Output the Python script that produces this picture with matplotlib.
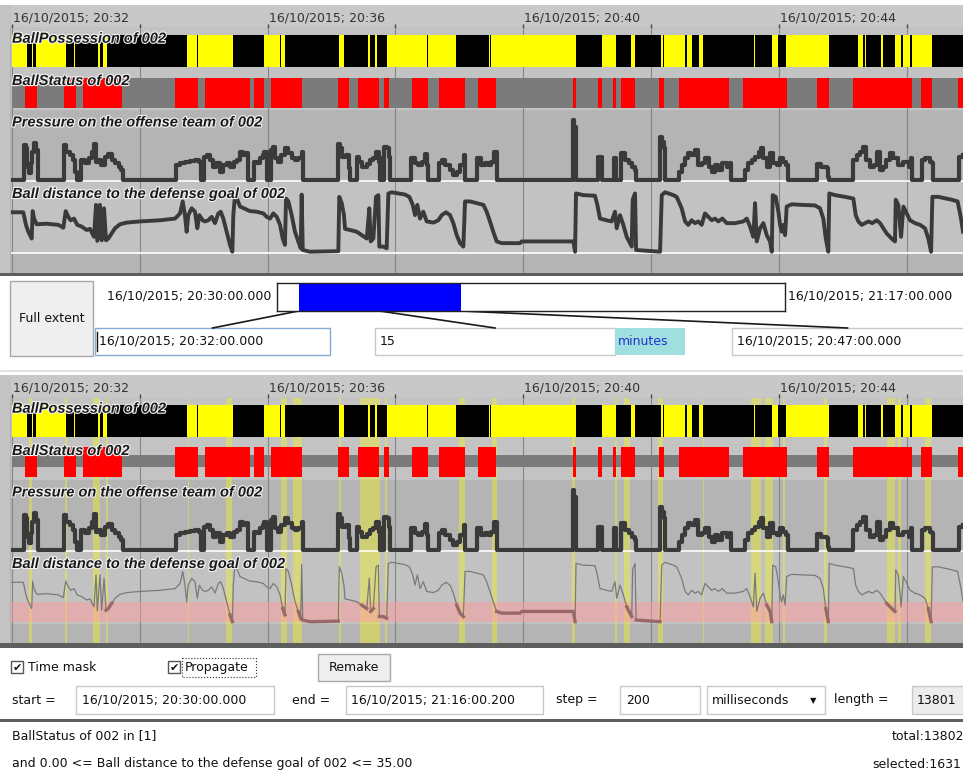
import matplotlib
matplotlib.use("Agg")
import matplotlib.pyplot as plt
import matplotlib.patheffects as pe
from matplotlib.patches import Rectangle
from matplotlib.transforms import blended_transform_factory
import numpy as np

# ---- data: times are seconds after 16/10/2015 20:32:00 ----
# BallPossession of 002: intervals shown in yellow (black elsewhere)
possession_yellow = [
    (0, 13.8), (19, 20), (22.5, 50.7), (58.2, 59.1), (81, 82.6), (85.8, 89),
    (164.6, 173.4), (175, 207.3), (236.9, 251.7), (252.6, 256.4), (307.3, 312),
    (334.6, 336.2), (340.9, 342.5), (351.8, 389.4), (390.6, 416.6), (447.9, 449),
    (450, 529.3), (553.7, 567.1), (581, 585.3), (609.4, 611), (612.5, 631.9),
    (633.5, 638.2), (645.1, 649.1), (696.7, 698), (713.9, 719.5), (726.8, 767.2),
    (794.1, 798.8), (801, 802), (816, 818.1), (829, 834.4), (836.3, 843.1),
    (844.8, 864.1),
]

# BallStatus of 002 == 1 (red)
status_red = [
    (12.2, 23.2), (48.8, 60.4), (66.4, 103.6), (153, 174.9), (181.2, 223.5),
    (227.5, 236.9), (243.2, 272), (306.4, 316.8), (324.6, 344.6), (349.3, 354),
    (375.3, 390.3), (401.2, 425.3), (437.8, 454.3), (526.5, 529.3), (550, 554),
    (564.6, 567.1), (571.9, 585), (607.8, 612.5), (626.3, 673.6), (686.7, 727.4),
    (755.6, 767.4), (789.4, 845.4), (853.5, 864.1), (888.6, 893),
]

# Pressure on the offense team of 002 (time, value), step series
pressure = [
    (0, 0), (11, 35), (13, 32), (14, 13), (16, 7), (18, 17), (19, 28), (21, 37), (23, 30), (24, 0),
    (49, 35), (51, 28), (54, 25), (57, 20), (59, 8), (61, 0),
    (65, 20), (69, 17), (72, 22), (75, 28), (77, 36), (79, 18), (81, 20), (84, 15), (87, 23),
    (90, 26), (94, 20), (97, 17), (100, 13), (102, 10), (104, 0),
    (154, 15), (158, 17), (162, 18), (167, 19), (172, 20), (176, 18), (177, 0),
    (180, 23), (183, 25), (186, 20), (189, 13), (192, 17), (195, 8), (198, 15), (202, 17),
    (205, 13), (208, 18), (211, 20), (214, 28), (217, 25), (220, 27), (222, 0),
    (227, 18), (230, 17), (233, 22), (236, 25), (237, 28), (239, 0),
    (243, 30), (245, 33), (247, 22), (250, 18), (253, 25), (256, 32), (259, 27), (263, 22),
    (266, 20), (269, 22), (272, 28), (273, 0),
    (306, 36), (308, 32), (310, 23), (314, 25), (316, 12), (317, 0),
    (324, 23), (326, 18), (329, 13), (333, 16), (336, 20), (339, 22), (342, 28), (345, 18),
    (346, 0), (347, 22), (348, 0),
    (349, 33), (352, 32), (354, 23), (355, 0),
    (375, 22), (378, 17), (381, 15), (385, 18), (388, 26), (390, 15), (391, 0),
    (401, 17), (404, 20), (407, 15), (411, 10), (414, 5), (418, 8), (421, 15), (424, 25), (425, 0),
    (437, 22), (440, 15), (444, 17), (447, 15), (450, 18), (453, 28), (455, 0),
    (527, 60), (528, 53), (530, 0),
    (550, 23), (554, 0), (565, 22), (567, 0),
    (572, 27), (576, 20), (579, 17), (582, 13), (585, 10), (586, 0),
    (608, 43), (610, 38), (612, 32), (613, 0),
    (626, 8), (629, 15), (632, 22), (635, 27), (638, 25), (641, 30), (644, 15), (648, 17),
    (651, 22), (654, 13), (657, 8), (660, 15), (663, 10), (667, 17), (671, 13), (674, 17), (675, 0),
    (688, 10), (691, 17), (695, 20), (698, 23), (701, 28), (703, 32), (705, 22), (709, 13),
    (712, 27), (715, 17), (718, 15), (721, 22), (724, 18), (727, 15), (729, 0),
    (756, 16), (760, 13), (765, 12), (766, 3), (767, 0),
    (790, 20), (793, 25), (796, 28), (799, 33), (802, 20), (806, 13), (809, 15), (812, 28),
    (815, 10), (818, 13), (821, 20), (824, 27), (827, 22), (832, 15), (837, 18), (842, 13),
    (844, 22), (845, 0),
    (854, 20), (857, 22), (862, 18), (864, 17), (865, 0),
    (889, 23), (893, 25),
]

# Ball distance to the defense goal of 002 (time, metres)
distance = [
    (0, 70), (10.6, 70), (13.1, 48), (15.3, 36), (18.5, 24), (19.4, 72), (20.7, 59), (23.2, 49),
    (32.6, 50), (43.5, 48), (48.2, 43), (50.4, 72), (52.9, 62), (55.1, 56), (58.2, 59), (61.3, 48),
    (65.4, 45), (70.1, 39), (73.2, 41), (77, 27), (78.9, 83), (80.1, 20), (82.6, 83), (84.2, 21),
    (86.4, 77), (88.3, 21), (90.4, 24), (93.6, 33), (96.7, 42), (101.4, 49), (107.7, 52),
    (120.2, 54), (139, 56), (153.1, 59), (157.8, 68), (160.3, 89), (162.4, 65), (164, 36),
    (165.5, 65), (168.7, 77), (171.8, 71), (174, 42), (175.9, 65), (179.1, 56), (181.2, 54),
    (184.3, 56), (187.5, 62), (190.6, 51), (193.7, 68), (196, 71), (198.4, 59), (201.6, 36),
    (204.7, 13), (206.9, 1), (207.8, 65), (209.4, 100), (211.6, 92), (214.1, 80), (218.8, 76),
    (223.5, 72), (229.8, 71), (236, 68), (239.2, 62), (242.3, 59), (245.4, 68), (248.6, 62),
    (251.7, 48), (254.2, 24), (256.3, 13), (257.3, 94), (259.5, 89), (262.6, 65), (265.7, 36),
    (268.8, 19), (271.1, 7), (272, 101), (273, 4), (279.8, 1), (306.4, 2), (307.3, 97),
    (309.6, 86), (311.7, 65), (312.7, 41), (317.4, 39), (323.7, 36), (328.4, 30), (333.1, 24),
    (335.5, 77), (336.8, 19), (339.3, 24), (341.8, 97), (344, 100), (344.9, 10), (348.7, 10),
    (351.8, 7), (353.4, 103), (356.5, 105), (362.7, 103), (369, 101), (373.1, 97), (376.3, 83),
    (378.4, 65), (380.6, 83), (383.1, 59), (386.2, 71), (389.4, 54), (395.6, 52), (400.3, 56),
    (403.5, 65), (407.5, 70), (411.3, 65), (414.4, 51), (417.6, 30), (420.7, 16), (423.8, 10),
    (425.4, 89), (430.1, 89), (436.4, 86), (442.6, 83), (445.7, 71), (448.8, 54), (451.9, 36),
    (455.1, 19), (459.8, 16), (477, 16), (478.6, 19), (527.1, 19), (528.7, 1), (529.6, 103),
    (536.5, 100), (547.4, 99), (549.6, 83), (552.1, 59), (558.4, 56), (563.1, 54), (566.2, 71),
    (567.8, 42), (570.9, 65), (574, 48), (577.2, 27), (581.9, 10), (582.8, 92), (585, 103),
    (586, 4), (608.5, 1), (610.1, 100), (613.2, 105), (621, 100), (624.1, 97), (628.8, 77),
    (632, 54), (635, 48), (638.2, 56), (641.4, 51), (644.4, 54), (647.6, 48), (650.7, 68),
    (653.8, 62), (657, 56), (660.1, 59), (663.2, 54), (667, 59), (671.1, 51), (678.9, 51),
    (686.7, 54), (689.9, 59), (693, 45), (696.1, 27), (697.7, 86), (699.3, 19), (702.4, 42),
    (705.5, 51), (708.7, 30), (711.8, 19), (713.4, 1), (714.3, 100), (717.1, 97), (719.6, 71),
    (721.2, 48), (722.7, 36), (724.3, 48), (725.9, 30), (727.4, 80), (732.1, 84), (741.5, 83),
    (754, 82), (758.7, 77), (761.8, 59), (764.1, 24), (766.5, 1), (767.4, 103), (772.8, 100),
    (782.2, 97), (790, 94), (792.2, 65), (794.7, 54), (797.9, 48), (801, 51), (804.1, 54),
    (807.8, 51), (812, 56), (815.1, 51), (818.2, 42), (821.3, 33), (826, 24), (829.1, 19),
    (829.8, 92), (832.2, 83), (834.8, 27), (837, 80), (840.1, 68), (843.2, 56), (847.9, 51),
    (852.6, 48), (857.3, 42), (860.4, 24), (863, 1), (864.2, 97), (869.8, 97), (882.3, 92),
    (887.9, 89), (891.1, 59), (893, 36),
]

# time mask result (BallStatus in [1] and 0 <= distance <= 35), highlighted in yellow
selected = [
    (16.2, 18.5), (49.8, 51.4), (76.3, 82.6), (88.3, 90.4), (165, 166), (201, 207),
    (252.6, 258.2), (264.1, 272.3), (307, 309), (326.8, 345.6), (350.3, 352.4), (420, 425.4),
    (450.4, 455.1), (525.5, 528.7), (566.2, 567.8), (574.7, 580.3), (606.9, 611.6),
    (648.6, 649.8), (693.6, 703), (707.1, 714.9), (724.3, 725.9), (762.5, 765.6),
    (821.3, 829.1), (832, 834.5), (857.3, 862.6),
]

row_names = ["BallPossession of 002", "BallStatus of 002",
             "Pressure on the offense team of 002", "Ball distance to the defense goal of 002"]
day = "16/10/2015"
view_start_min = 32          # 20:32
view_len_min = 15
full_len_min = 47            # 20:30 .. 21:17
full_offset_min = 2          # view starts 2 min after full start
dist_lo, dist_hi = 0.0, 35.0

# ---- layout ----
W, H = 963, 771
PX_PER_S = 63.9 / 60
X0 = 11
XLO = (X0 - 12) / PX_PER_S
XHI = (W - 12) / PX_PER_S
GRID = np.arange(0, XHI, 120)
UI = dict(family="DejaVu Sans", fontsize=9, color="#111111", va="center")
LAB = dict(family=["Liberation Sans", "DejaVu Sans"], fontsize=10.5, fontweight="bold",
           fontstyle="italic", color="#1a1a1a", va="baseline",
           path_effects=[pe.withStroke(linewidth=1.6, foreground="#f2f2f2")])

fig = plt.figure(figsize=(W / 100, H / 100), dpi=100)
fig.patch.set_facecolor("white")
base = fig.add_axes([0, 0, 1, 1], zorder=-5)
base.set_xlim(0, W); base.set_ylim(H, 0); base.axis("off")
top = fig.add_axes([0, 0, 1, 1], zorder=20)
top.set_xlim(0, W); top.set_ylim(H, 0); top.axis("off")


def box(x0, y0, x1, y1, fc="white", ec="#c8c8c8", lw=1, ax=None, **kw):
    (ax or base).add_patch(Rectangle((x0, y0), x1 - x0, y1 - y0, fc=fc, ec=ec, lw=lw, **kw))


def txt(x, y, s, **kw):
    opts = dict(UI); opts.update(kw)
    top.text(x, y, s, **opts)


def px_axes(x0, y0, x1, y1):
    return fig.add_axes([x0 / W, 1 - y1 / H, (x1 - x0) / W, (y1 - y0) / H])


def row(yo, y0, y1, face):
    ax = px_axes(X0, yo + y0, W, yo + y1)
    ax.set_xlim(XLO, XHI)
    ax.set_facecolor(face)
    ax.set_xticks([]); ax.set_yticks([])
    for s in ax.spines.values():
        s.set_visible(False)
    for t in GRID:
        ax.axvline(t, color="#868686", lw=0.8, zorder=0.5)
    return ax


def panel(yo, masked):
    box(0, yo + 5, W, yo + 276, fc="#c3c3c3", ec="none", lw=0)
    # time header
    hx = px_axes(X0, yo + 5, W, yo + 28)
    hx.set_facecolor("#c8c8c8")
    hx.set_xlim(XLO, XHI); hx.set_ylim(0, 1)
    for k, s in hx.spines.items():
        s.set_visible(k == "bottom")
    hx.spines["bottom"].set_color("#777777")
    hx.set_yticks([])
    hx.set_xticks(GRID)
    hx.tick_params(axis="x", direction="in", length=3, width=1, color="#404040", labelbottom=False)
    tr = blended_transform_factory(hx.transData, hx.transAxes)
    for t in np.arange(0, XHI, 240):
        lab = f"{day}; 20:{view_start_min + int(t) // 60:02d}"
        hx.text(t + 1 / PX_PER_S, 0.28, lab, transform=tr, family="DejaVu Sans",
                fontsize=9, color="#333333", va="baseline", ha="left")

    pos = row(yo, 28, 72, "#c3c3c3")
    st = row(yo, 72, 110, "#c3c3c3")
    pr = row(yo, 110, 182, "#b4b4b4")
    di = row(yo, 182, 254, "#c2c2c2")
    sp = row(yo, 254, 273, "#b4b4b4")
    for ax in (pos, st):
        ax.set_ylim(0, 1)
    pr.set_ylim(-2, 70)
    di.set_ylim(-3, 123)

    if masked:
        for ax in (pos, st, pr, di, sp):
            for a, b in selected:
                ax.axvspan(a, b, color="#ffff00", alpha=0.35, lw=0, zorder=0.7)

    # possession
    pos.broken_barh([(0, XHI)], (0.114, 0.727), facecolors="black", zorder=2)
    pos.broken_barh([(a, b - a) for a, b in possession_yellow], (0.114, 0.727),
                    facecolors="#ffff00", zorder=3)

    # status
    red = [(a, b - a) for a, b in status_red]
    if masked:
        st.broken_barh([(0, XHI)], (0.342, 0.316), facecolors="#7b7b7b", zorder=2)
        st.broken_barh(red, (0.079, 0.79), facecolors="#ff0000", zorder=3)
    else:
        st.broken_barh([(0, XHI)], (0.053, 0.79), facecolors="#7b7b7b", zorder=2)
        st.broken_barh(red, (0.053, 0.79), facecolors="#ff0000", zorder=3)

    # pressure
    pt = [p[0] for p in pressure]
    pv = [p[1] for p in pressure]
    pr.axhline(-1, color="white", lw=1.2, zorder=1)
    pr.plot(pt, pv, drawstyle="steps-post", color="#3a3a3a", lw=3.0, zorder=4)

    # distance
    dt = np.array([d[0] for d in distance])
    dv = np.array([d[1] for d in distance], dtype=float)
    if masked:
        di.axhspan(dist_lo, dist_hi, color="#ff9c9c", alpha=0.5, lw=0, zorder=1)
        di.plot(dt, dv, color="#7a7a7a", lw=0.9, zorder=3)
        inside = np.ma.masked_where((dv < dist_lo) | (dv > dist_hi), dv)
        di.plot(dt, inside, color="#9a6868", lw=2.4, zorder=4)
    else:
        di.axhline(-0.5, color="white", lw=1.2, zorder=1)
        di.plot(dt, dv, color="#3a3a3a", lw=2.8, zorder=4)

    # frame
    base.plot([11, 11], [yo + 28, yo + 273], color="#6a6a6a", lw=1)
    box(0, yo + 273, W, yo + 275.5, fc="#5e5e5e", ec="none", lw=0)

    # row labels
    for name, yb in zip(row_names, (42.7, 85, 126.5, 198)):
        top.text(12, yo + yb, name, **LAB)


panel(0, False)
panel(370, True)

# ---- range selector ----
box(10, 281, 93, 356, fc="#efefef", ec="#a8a8a8")
txt(51.5, 318.5, "Full extent", ha="center")
txt(107, 296, f"{day}; 20:30:00.000")
txt(788, 296, f"{day}; 21:17:00.000")
rx = px_axes(277, 283, 785, 311)
rx.set_xlim(0, full_len_min); rx.set_ylim(0, 1)
rx.barh(0.5, view_len_min, left=full_offset_min, height=1, color="#0000ff")
rx.set_xticks([]); rx.set_yticks([])
for s in rx.spines.values():
    s.set_color("#222222"); s.set_linewidth(1)


def bar_px(m):
    return 277 + m / full_len_min * 508


for m, xt in ((full_offset_min, 212.5),
              (full_offset_min + view_len_min / 2, 495),
              (full_offset_min + view_len_min, 847.5)):
    base.plot([bar_px(m), xt], [311, 328], color="#1a1a1a", lw=1.2)

box(95, 328, 330, 355, ec="#86acd6")
base.plot([97, 97], [332, 351], color="#111111", lw=1)
txt(99, 341.5, f"{day}; 20:{view_start_min:02d}:00.000")
box(375, 328, 615, 355)
txt(380, 341.5, f"{view_len_min}")
box(615, 328, 685, 355, fc="#9fdfe0", ec="none", lw=0)
txt(618, 341.5, "minutes", color="#2233cc")
box(732, 328, 975, 355)
txt(737, 341.5, f"{day}; 20:{view_start_min + view_len_min:02d}:00.000")
base.plot([0, W], [371, 371], color="#e2e2e2", lw=1.5)

# ---- controls ----
box(0, 645, W, 648, fc="#5e5e5e", ec="none", lw=0)
for cx in (11, 168):
    box(cx, 661, cx + 12, 673, fc="white", ec="#555555")
    txt(cx + 6, 667.5, "\u2714", ha="center", fontsize=8)
txt(28, 667.5, "Time mask")
txt(185, 667.5, "Propagate")
box(182, 658, 256, 677, fc="none", ec="#333333", lw=0.8, ls=":")
box(318, 654, 390, 681, fc="#eeeeee", ec="#a8a8a8")
txt(354, 667.5, "Remake", ha="center")

txt(12, 700, "start =")
box(76, 686, 274, 714)
txt(82, 700, f"{day}; 20:30:00.000")
txt(292, 700, "end =")
box(346, 686, 543, 714)
txt(351, 700, f"{day}; 21:16:00.200")
txt(556, 700, "step =")
box(620, 686, 700, 714)
txt(626, 700, "200")
box(707, 686, 825, 714)
txt(712, 700, "milliseconds")
txt(813, 701, "\u25bc", ha="center", fontsize=6)
txt(834, 700, "length =")
box(912, 686, 975, 714, fc="#ececec")
txt(917, 700, "13801")
box(0, 719, W, 722, fc="#5e5e5e", ec="none", lw=0)

txt(12, 736, "BallStatus of 002 in [1]")
txt(892, 736, "total:13802")
txt(12, 764, f"and {dist_lo:.2f} <= Ball distance to the defense goal of 002 <= {dist_hi:.2f}")
txt(872, 764, "selected:1631")

fig.savefig("out.png", dpi=100, facecolor="white")
